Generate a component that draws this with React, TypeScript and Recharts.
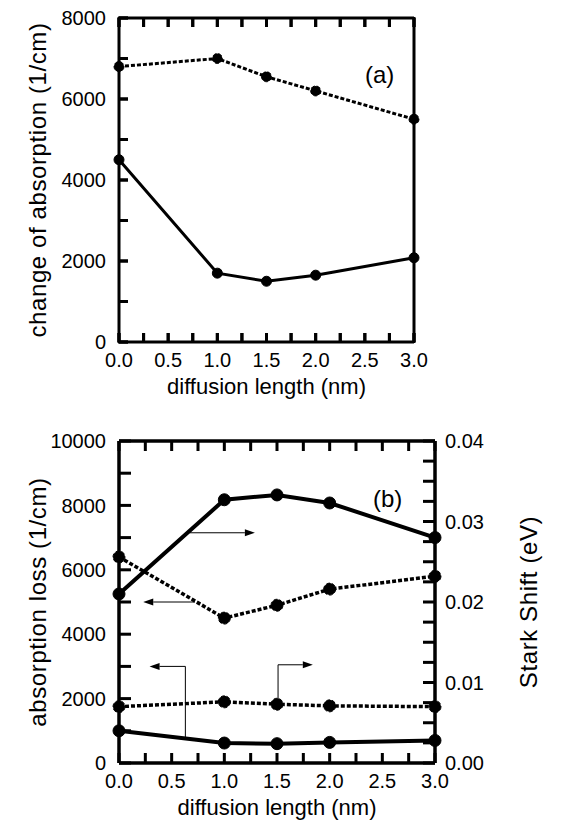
import React from 'react'
import { LineChart, Line, XAxis, YAxis, ReferenceLine, ReferenceDot } from 'recharts'

const FONT = '"Liberation Sans", Arial, Helvetica, sans-serif'

// diffusion length (nm)
const X_NM = [0, 1.0, 1.5, 2.0, 3.0]
const X_TICKS = [0, 0.25, 0.5, 0.75, 1, 1.25, 1.5, 1.75, 2, 2.25, 2.5, 2.75, 3]

// (a) change of absorption (1/cm)
const A_DASHED = [6800, 7000, 6550, 6200, 5500]
const A_SOLID = [4500, 1700, 1500, 1650, 2080]
const A_TICKS = [0, 1000, 2000, 3000, 4000, 5000, 6000, 7000, 8000]

// (b) absorption loss (1/cm) on the left, Stark shift (eV) on the right
const B_LOSS_DASHED = [6400, 4500, 4900, 5400, 5800]
const B_LOSS_SOLID = [1000, 620, 600, 640, 700]
const B_SHIFT_SOLID = [0.021, 0.0327, 0.0333, 0.0323, 0.028]
const B_SHIFT_DASHED = [0.007, 0.0076, 0.0073, 0.0071, 0.007]
const B_LEFT_TICKS = [0, 1000, 2000, 3000, 4000, 5000, 6000, 7000, 8000, 9000, 10000]
const B_RIGHT_TICKS = [0, 0.0025, 0.005, 0.0075, 0.01, 0.0125, 0.015, 0.0175, 0.02, 0.0225, 0.025, 0.0275, 0.03, 0.0325, 0.035, 0.0375, 0.04]

// arrows pointing each curve to its axis (x in nm, y on the left axis)
const ARROW_SHIFT_TOP = [{ x: 0.67, y: 7150 }, { x: 1.29, y: 7150 }]
const ARROW_LOSS_TOP = [{ x: 0.72, y: 5000 }, { x: 0.23, y: 5000 }]
const STEM_LOSS_LOW = [{ x: 0.63, y: 780 }, { x: 0.63, y: 3000 }]
const ARROW_LOSS_LOW = [{ x: 0.63, y: 3000 }, { x: 0.29, y: 3000 }]
const STEM_SHIFT_LOW = [{ x: 1.51, y: 1820 }, { x: 1.51, y: 3050 }]
const ARROW_SHIFT_LOW = [{ x: 1.51, y: 3050 }, { x: 1.84, y: 3050 }]

const rowsA = X_NM.map((x, i) => ({ x, dashed: A_DASHED[i], solid: A_SOLID[i] }))
const rowsB = X_NM.map((x, i) => ({
  x,
  lossDashed: B_LOSS_DASHED[i],
  lossSolid: B_LOSS_SOLID[i],
  shiftSolid: B_SHIFT_SOLID[i],
  shiftDashed: B_SHIFT_DASHED[i],
}))

const isStep = (v: number, step: number) => Math.abs(v / step - Math.round(v / step)) < 1e-6

// panel (a): tickSize 1 / tickMargin 0, so the frame is 1px from p.x / p.y; ticks drawn inward as paths
const aLeftTick = (p: any) => {
  const v = p.payload.value
  return (
    <g>
      <path d={`M${p.x + 1},${p.y}H${p.x + 10}`} stroke="#000" strokeWidth={3} fill="none" />
      {isStep(v, 2000) && (
        <text x={p.x - 12} y={p.y} dy="0.36em" textAnchor="end" fontSize={20} fontFamily={FONT} fill="#000">
          {v}
        </text>
      )}
    </g>
  )
}

const aRightTick = (p: any) => (
  <path d={`M${p.x - 1},${p.y}H${p.x - 10}`} stroke="#000" strokeWidth={3} fill="none" />
)

const aTopTick = (p: any) => (
  <path d={`M${p.x},${p.y + 1}V${p.y + 10}`} stroke="#000" strokeWidth={3} fill="none" />
)

const aBottomTick = (p: any) => {
  const v = p.payload.value
  return (
    <g>
      <path d={`M${p.x},${p.y - 1}V${p.y - 10}`} stroke="#000" strokeWidth={3} fill="none" />
      {isStep(v, 0.5) && (
        <text x={p.x} y={p.y + 24} textAnchor="middle" fontSize={20} fontFamily={FONT} fill="#000">
          {v.toFixed(1)}
        </text>
      )}
    </g>
  )
}

// panel (b): labels only; tickSize/tickMargin are 0 so p.x / p.y sit on the frame
const leftLabel = (step: number) => (p: any) => {
  const v = p.payload.value
  if (!isStep(v, step)) return <g />
  return (
    <text x={p.x - 13} y={p.y} dy="0.36em" textAnchor="end" fontSize={20} fontFamily={FONT} fill="#000">
      {v}
    </text>
  )
}

const rightLabel = (p: any) => {
  const v = p.payload.value
  if (!isStep(v, 0.01)) return <g />
  return (
    <text x={p.x + 10} y={p.y} dy="0.36em" textAnchor="start" fontSize={20} fontFamily={FONT} fill="#000">
      {v.toFixed(2)}
    </text>
  )
}

const bottomLabel = (p: any) => {
  const v = p.payload.value
  if (!isStep(v, 0.5)) return <g />
  return (
    <text x={p.x} y={p.y + 25} textAnchor="middle" fontSize={20} fontFamily={FONT} fill="#000">
      {v.toFixed(1)}
    </text>
  )
}

const noLabel = () => <g />

// inward tick marks at the ends of a reference line (filled rects)
const xTickMark = (len: number, w: number) => (p: any) => {
  const top = Math.min(p.y1, p.y2)
  const bot = Math.max(p.y1, p.y2)
  return (
    <g>
      <rect x={p.x1 - w / 2} y={top} width={w} height={len} fill="#000" />
      <rect x={p.x1 - w / 2} y={bot - len} width={w} height={len} fill="#000" />
    </g>
  )
}

const yTickMark = (len: number, w: number, left: boolean, right: boolean) => (p: any) => {
  const l = Math.min(p.x1, p.x2)
  const r = Math.max(p.x1, p.x2)
  return (
    <g>
      {left && <rect x={l} y={p.y1 - w / 2} width={len} height={w} fill="#000" />}
      {right && <rect x={r - len} y={p.y1 - w / 2} width={len} height={w} fill="#000" />}
    </g>
  )
}

const xTitle = (props: any) => {
  const vb = props.viewBox
  return (
    <text x={vb.x + vb.width / 2} y={vb.y + 52} textAnchor="middle" fontSize={22} fontFamily={FONT} fill="#000">
      diffusion length (nm)
    </text>
  )
}

const yTitle = (text: string, x: number) => (props: any) => {
  const vb = props.viewBox
  const cy = vb.y + vb.height / 2
  return (
    <text x={x} y={cy} transform={`rotate(-90, ${x}, ${cy})`} textAnchor="middle" fontSize={24}
      letterSpacing={0.6} fontFamily={FONT} fill="#000">
      {text}
    </text>
  )
}

const Arrow = (props: any) => {
  const { x1, y1, x2, y2 } = props
  const ang = Math.atan2(y2 - y1, x2 - x1)
  const len = 10
  const half = 3.5
  const bx = x2 - len * Math.cos(ang)
  const by = y2 - len * Math.sin(ang)
  const px = -Math.sin(ang) * half
  const py = Math.cos(ang) * half
  return (
    <g>
      <line x1={x1} y1={y1} x2={bx} y2={by} stroke="#000" strokeWidth={1} />
      <polygon points={`${x2},${y2} ${bx + px},${by + py} ${bx - px},${by - py}`} fill="#000" />
    </g>
  )
}

const Stem = (props: any) => (
  <line x1={props.x1} y1={props.y1} x2={props.x2} y2={props.y2} stroke="#000" strokeWidth={1} />
)

const tickA_x = xTickMark(9, 3)
const tickA_l = yTickMark(9, 3, true, false)
const tickA_r = yTickMark(9, 3, false, true)
const tickB_x = xTickMark(10, 3)
const tickB_l = yTickMark(12, 3, true, false)
const tickB_r = yTickMark(12, 3, false, true)

function PanelA() {
  const axis = { stroke: '#000', strokeWidth: 3 }
  const tl = { stroke: '#000', strokeWidth: 3 }
  const dot = { r: 5, fill: '#000', stroke: '#000', strokeWidth: 1 }
  return (
    <LineChart id="panel-a" width={571} height={405} data={rowsA} margin={{ top: 17, right: 0, bottom: 0, left: 0 }}>
      <XAxis xAxisId="top" orientation="top" dataKey="x" type="number" domain={[0, 3]} ticks={X_TICKS} interval={0}
        height={1} axisLine={axis} tickLine={tl} tickSize={1} tickMargin={0} tick={aTopTick} />
      <XAxis xAxisId="bottom" orientation="bottom" dataKey="x" type="number" domain={[0, 3]} ticks={X_TICKS} interval={0}
        height={63} axisLine={axis} tickLine={tl} tickSize={1} tickMargin={0} tick={aBottomTick}
        label={{ content: xTitle }} />
      <YAxis yAxisId="left" orientation="left" type="number" domain={[0, 8000]} ticks={A_TICKS} interval={0}
        width={119} axisLine={axis} tickLine={tl} tickSize={1} tickMargin={0} tick={aLeftTick}
        label={{ content: yTitle('change of absorption (1/cm)', 46) }} />
      <YAxis yAxisId="right" orientation="right" type="number" domain={[0, 8000]} ticks={A_TICKS} interval={0}
        width={157} axisLine={axis} tickLine={tl} tickSize={1} tickMargin={0} tick={aRightTick} />
      {X_TICKS.map((v) => (
        <ReferenceLine key={`ax${v}`} xAxisId="bottom" yAxisId="left" x={v} shape={tickA_x} />
      ))}
      {A_TICKS.map((v) => (
        <ReferenceLine key={`al${v}`} xAxisId="bottom" yAxisId="left" y={v} shape={tickA_l} />
      ))}
      {A_TICKS.map((v) => (
        <ReferenceLine key={`ar${v}`} xAxisId="bottom" yAxisId="right" y={v} shape={tickA_r} />
      ))}
      <Line xAxisId="bottom" yAxisId="left" dataKey="dashed" stroke="#000" strokeWidth={3} strokeDasharray="4 2"
        dot={dot} isAnimationActive={false} />
      <Line xAxisId="bottom" yAxisId="left" dataKey="solid" stroke="#000" strokeWidth={3}
        dot={dot} isAnimationActive={false} />
      <ReferenceDot xAxisId="bottom" yAxisId="left" x={2.65} y={6600} r={0} fill="none" stroke="none"
        label={{ value: '(a)', position: 'center', fontSize: 24, fontFamily: FONT, fill: '#000' }} />
    </LineChart>
  )
}

function PanelB() {
  const axis = { stroke: '#000', strokeWidth: 3.5 }
  const dot = { r: 6, fill: '#000', stroke: '#000', strokeWidth: 1 }
  return (
    <LineChart id="panel-b" width={571} height={403} data={rowsB} margin={{ top: 20, right: 0, bottom: 0, left: 0 }}>
      <XAxis xAxisId="top" orientation="top" dataKey="x" type="number" domain={[0, 3]} ticks={X_TICKS} interval={0}
        height={1} axisLine={axis} tickLine={false} tickSize={0} tickMargin={0} tick={noLabel} />
      <XAxis xAxisId="bottom" orientation="bottom" dataKey="x" type="number" domain={[0, 3]} ticks={X_TICKS} interval={0}
        height={60} axisLine={axis} tickLine={false} tickSize={0} tickMargin={0} tick={bottomLabel}
        label={{ content: xTitle }} />
      <YAxis yAxisId="left" orientation="left" type="number" domain={[0, 10000]} ticks={B_LEFT_TICKS} interval={0}
        width={119} axisLine={axis} tickLine={false} tickSize={0} tickMargin={0} tick={leftLabel(2000)}
        label={{ content: yTitle('absorption loss (1/cm)', 46) }} />
      <YAxis yAxisId="right" orientation="right" type="number" domain={[0, 0.04]} ticks={B_RIGHT_TICKS} interval={0}
        width={136} axisLine={axis} tickLine={false} tickSize={0} tickMargin={0} tick={rightLabel}
        label={{ content: yTitle('Stark Shift (eV)', 537) }} />
      {X_TICKS.map((v) => (
        <ReferenceLine key={`bx${v}`} xAxisId="bottom" yAxisId="left" x={v} shape={tickB_x} />
      ))}
      {B_LEFT_TICKS.map((v) => (
        <ReferenceLine key={`bl${v}`} xAxisId="bottom" yAxisId="left" y={v} shape={tickB_l} />
      ))}
      {B_RIGHT_TICKS.map((v) => (
        <ReferenceLine key={`br${v}`} xAxisId="bottom" yAxisId="right" y={v} shape={tickB_r} />
      ))}
      <Line xAxisId="bottom" yAxisId="left" dataKey="lossDashed" stroke="#000" strokeWidth={3.5} strokeDasharray="4 2"
        dot={dot} isAnimationActive={false} />
      <Line xAxisId="bottom" yAxisId="left" dataKey="lossSolid" stroke="#000" strokeWidth={4}
        dot={dot} isAnimationActive={false} />
      <Line xAxisId="bottom" yAxisId="right" dataKey="shiftSolid" stroke="#000" strokeWidth={4}
        dot={dot} isAnimationActive={false} />
      <Line xAxisId="bottom" yAxisId="right" dataKey="shiftDashed" stroke="#000" strokeWidth={3.5} strokeDasharray="4 2"
        dot={dot} isAnimationActive={false} />
      <ReferenceLine xAxisId="bottom" yAxisId="left" segment={ARROW_SHIFT_TOP} shape={Arrow} />
      <ReferenceLine xAxisId="bottom" yAxisId="left" segment={ARROW_LOSS_TOP} shape={Arrow} />
      <ReferenceLine xAxisId="bottom" yAxisId="left" segment={STEM_LOSS_LOW} shape={Stem} />
      <ReferenceLine xAxisId="bottom" yAxisId="left" segment={ARROW_LOSS_LOW} shape={Arrow} />
      <ReferenceLine xAxisId="bottom" yAxisId="left" segment={STEM_SHIFT_LOW} shape={Stem} />
      <ReferenceLine xAxisId="bottom" yAxisId="left" segment={ARROW_SHIFT_LOW} shape={Arrow} />
      <ReferenceDot xAxisId="bottom" yAxisId="left" x={2.55} y={8200} r={0} fill="none" stroke="none"
        label={{ value: '(b)', position: 'center', fontSize: 24, fontFamily: FONT, fill: '#000' }} />
    </LineChart>
  )
}

export default function App() {
  return (
    <div style={{ position: 'absolute', left: 0, top: 0, width: 571, height: 823, background: '#fff' }}>
      <div style={{ position: 'absolute', left: 0, top: 0 }}>
        <PanelA />
      </div>
      <div style={{ position: 'absolute', left: 0, top: 420 }}>
        <PanelB />
      </div>
    </div>
  )
}
